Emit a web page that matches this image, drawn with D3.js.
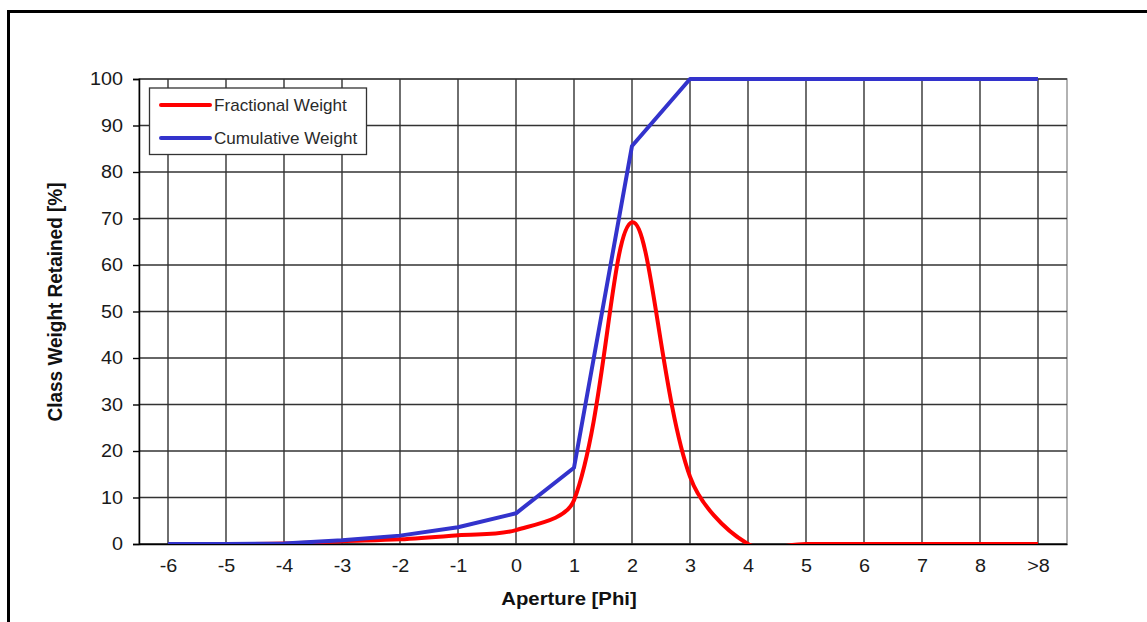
<!DOCTYPE html>
<html><head><meta charset="utf-8">
<script src="https://cdn.jsdelivr.net/npm/d3@7"></script>
<style>body{margin:0;background:#fff}svg{display:block}text{font-family:"Liberation Sans",Arial,sans-serif}</style>
</head><body><svg id="c" width="1147" height="622"></svg>
<script>
const categories = ["-6","-5","-4","-3","-2","-1","0","1","2","3","4","5","6","7","8",">8"];
const fractionalWeight = [0,0,0.1,0.6,1.0,1.9,3.0,9.4,69.2,14.5,0,0,0,0,0,0];
const cumulativeWeight = [0,0,0.1,0.8,1.8,3.6,6.6,16.4,85.6,100,100,100,100,100,100,100];
const yTicks = [0,10,20,30,40,50,60,70,80,90,100];
const seriesNames = ["Fractional Weight","Cumulative Weight"];
const seriesColors = ["#ff0000","#3333cc"];

const SX = 1.07; // horizontal text stretch
const svg = d3.select("#c");
const L = 139, R = 1067, T = 79, B = 544;
const x = d3.scalePoint().domain(categories).range([L, R]).padding(0.5);
const y = d3.scaleLinear().domain([0,100]).range([B, T]);

// outer frame
svg.append("rect").attr("x",8.5).attr("y",11.5).attr("width",1160).attr("height",640)
  .attr("fill","none").attr("stroke","#000").attr("stroke-width",3);

// plot border
svg.append("rect").attr("x",L).attr("y",T).attr("width",R-L).attr("height",B-T)
  .attr("fill","#fff").attr("stroke","#999").attr("stroke-width",1.5);

// grid
const g = svg.append("g");
g.selectAll(".hg").data(yTicks).join("line")
  .attr("x1",L).attr("x2",R).attr("y1",d=>y(d)).attr("y2",d=>y(d))
  .attr("stroke","#333").attr("stroke-width",1.4);
g.selectAll(".vg").data(categories).join("line")
  .attr("x1",d=>x(d)).attr("x2",d=>x(d)).attr("y1",T).attr("y2",B)
  .attr("stroke","#333").attr("stroke-width",1.4);

// axes
const yAxis = d3.axisLeft(y).tickValues(yTicks).tickSize(6).tickPadding(10);
const ya = svg.append("g").attr("transform",`translate(${L},0)`).call(yAxis);
ya.select(".domain").attr("stroke","#000").attr("stroke-width",1.5);
ya.selectAll(".tick line").attr("stroke","#000").attr("stroke-width",1.4);
ya.selectAll("text").attr("font-size",18.5).attr("fill","#1a1a1a").attr("transform",`scale(${SX},1)`).attr("x",-16/SX);

const xAxis = d3.axisBottom(x).tickSize(0).tickPadding(15);
const xa = svg.append("g").attr("transform",`translate(0,${B})`).call(xAxis);
xa.select(".domain").attr("stroke","#000").attr("stroke-width",1.5);
xa.selectAll("text").attr("font-size",18.5).attr("fill","#1a1a1a").attr("transform",`scale(${SX},1)`);

// titles
svg.append("text").attr("transform",`translate(569,605) scale(${SX},1)`).attr("text-anchor","middle")
  .attr("font-size",19).attr("font-weight","bold").attr("fill","#111").text("Aperture [Phi]");
svg.append("text").attr("transform",`translate(62,302) scale(${SX},1) rotate(-90)`).attr("text-anchor","middle")
  .attr("font-size",19).attr("font-weight","bold").attr("fill","#111").text("Class Weight Retained [%]");

// clip
svg.append("clipPath").attr("id","pc").append("rect")
  .attr("x",L-10).attr("y",T-10).attr("width",R-L+20).attr("height",B-T+10);

// Excel-like smoothing in pixel space
function excelSmooth(vals){
  const P = vals.map((v,i)=>[x(categories[i]), y(v)]);
  const n = P.length, dist=(a,b)=>Math.hypot(b[0]-a[0],b[1]-a[1]);
  const p = d3.path();
  p.moveTo(P[0][0],P[0][1]);
  for(let i=0;i<n-1;i++){
    const p0 = P[Math.max(i-1,0)], p1=P[i], p2=P[i+1], p3=P[Math.min(i+2,n-1)];
    const d01=dist(p0,p1), d12=dist(p1,p2), d23=dist(p2,p3);
    const f1 = d12/(3*((d01+d12)||1)) * (i===0?2:1);
    const f2 = d12/(3*((d12+d23)||1)) * (i===n-2?2:1);
    const c1=[p1[0]+(p2[0]-p0[0])*f1, p1[1]+(p2[1]-p0[1])*f1];
    const c2=[p2[0]-(p3[0]-p1[0])*f2, p2[1]-(p3[1]-p1[1])*f2];
    p.bezierCurveTo(c1[0],c1[1],c2[0],c2[1],p2[0],p2[1]);
  }
  return p.toString();
}

const lines = svg.append("g").attr("clip-path","url(#pc)");
const straight = d3.line().x((d,i)=>x(categories[i])).y(d=>y(d));
lines.append("path").attr("d",excelSmooth(fractionalWeight)).attr("fill","none")
  .attr("stroke",seriesColors[0]).attr("stroke-width",4).attr("stroke-linejoin","round");
lines.append("path").attr("d",straight(cumulativeWeight)).attr("fill","none")
  .attr("stroke",seriesColors[1]).attr("stroke-width",4).attr("stroke-linejoin","round");

// legend
const lg = svg.append("g");
lg.append("rect").attr("x",149.5).attr("y",88).attr("width",217).attr("height",66.5)
  .attr("fill","#fff").attr("stroke","#333").attr("stroke-width",1.3);
seriesNames.forEach((n,i)=>{
  const yy = 105 + i*33;
  lg.append("line").attr("x1",161).attr("x2",210).attr("y1",yy).attr("y2",yy)
    .attr("stroke",seriesColors[i]).attr("stroke-width",4).attr("stroke-linecap","round");
  lg.append("text").attr("transform",`translate(214,${yy+6.2}) scale(${SX},1)`)
    .attr("font-size",16).attr("fill","#2a2a2a").text(n);
});
</script></body></html>
